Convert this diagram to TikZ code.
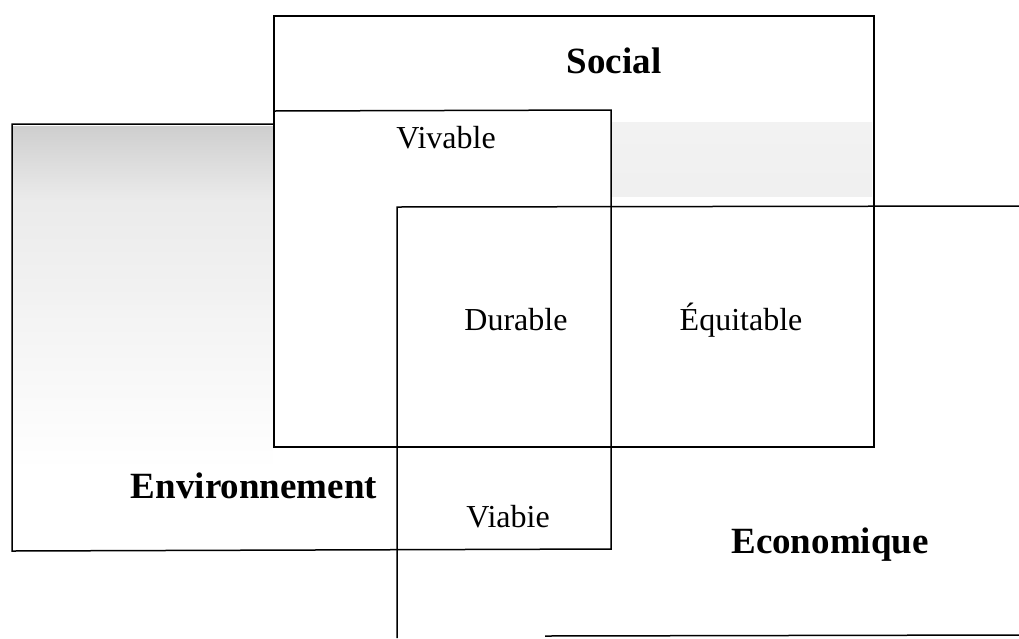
\documentclass[tikz,border=0pt]{standalone}
\usepackage{fontspec}
\setmainfont{Liberation Serif}
\usepackage{tikz}
\tikzset{
	pillar/.style={line width=1.5pt, line join=miter},
	pillar name/.style={font=\bfseries\fontsize{37}{40}\selectfont, anchor=base, inner sep=0pt},
	zone name/.style={font=\fontsize{32}{36}\selectfont, anchor=base, inner sep=0pt},
}
\begin{document}
\begin{tikzpicture}[x=1pt,y=-1pt]
	\useasboundingbox (0,0) rectangle (1019,638);
	% grey tone of the scan
	\shade[top color=gray!38, bottom color=gray!16] (12,126) rectangle (273,200);
	\shade[top color=gray!16, bottom color=white] (12,200) rectangle (273,470);
	\shade[top color=gray!10, middle color=gray!35, bottom color=gray!12] (612,122) rectangle (872,196);
	% the three pillars
	\draw[pillar] (274,16) rectangle (874,447);
	\draw[pillar] (274,111) -- (611,110) -- (611,549) -- (12,551) -- (12,124) -- (274,124);
	\draw[pillar] (1019,206) -- (397,207) -- (397,638);
	\draw[pillar] (545,636) -- (1019,635);
	% names
	\node[pillar name] (social) at (614,73) {Social};
	\node[pillar name] (environnement) at (254,498) {Environnement};
	\node[pillar name] (economique) at (830,553) {Economique};
	\node[zone name] (vivable) at (446,148) {Vivable};
	\node[zone name] (durable) at (516,330) {Durable};
	\node[zone name] (equitable) at (741,330) {Équitable};
	\node[zone name] (viabie) at (508,527) {Viabie};
\end{tikzpicture}
\end{document}
